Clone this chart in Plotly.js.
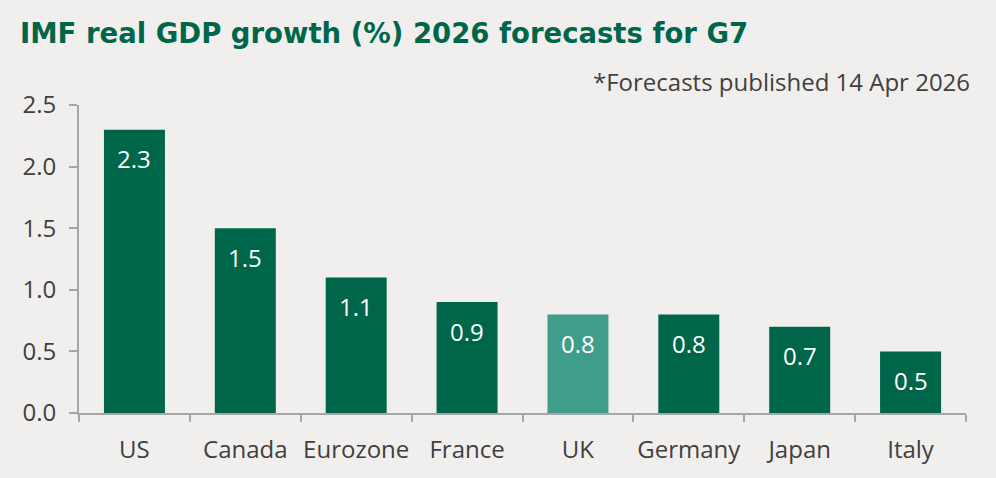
<!DOCTYPE html>
<html>
<head>
<meta charset="utf-8">
<script src="https://cdn.plot.ly/plotly-3.0.1.min.js"></script>
<style>html,body{margin:0;padding:0;background:#F0EFED;}#chart{width:996px;height:478px;}</style>
</head>
<body>
<div id="chart"></div>
<script>
const categories = ["US", "Canada", "Eurozone", "France", "UK", "Germany", "Japan", "Italy"];
const growth = [2.3, 1.5, 1.1, 0.9, 0.8, 0.8, 0.7, 0.5];
const valueLabels = ["2.3", "1.5", "1.1", "0.9", "0.8", "0.8", "0.7", "0.5"];
const highlight = "UK";
const yTicks = [0, 0.5, 1.0, 1.5, 2.0, 2.5];
const yTickLabels = ["0.0", "0.5", "1.0", "1.5", "2.0", "2.5"];

const dark = "#00664A";
const light = "#3F9E89";
const colors = categories.map(c => c === highlight ? light : dark);

const trace = {
  type: "bar",
  x: categories,
  y: growth,
  marker: {color: colors, line: {width: 0}},
  hoverinfo: "skip"
};

const annotations = categories.map((c, i) => ({
  x: c, y: growth[i], xref: "x", yref: "y",
  text: valueLabels[i], showarrow: false,
  yanchor: "middle", yshift: -29,
  font: {family: "Open Sans", size: 24, color: "#FFFFFF"}
}));
annotations.push({
  xref: "paper", yref: "paper", x: 1.007, y: (413 - 81) / 308,
  xanchor: "right", yanchor: "middle",
  text: "*Forecasts published 14 Apr 2026", showarrow: false,
  font: {family: "Open Sans", size: 24, color: "#404040"}
});

const layout = {
  width: 996, height: 478,
  paper_bgcolor: "#F0EFED", plot_bgcolor: "#F0EFED",
  margin: {l: 79, r: 30, t: 105, b: 65},
  bargap: 0.45,
  showlegend: false,
  title: {
    text: "<b>IMF real GDP growth (%) 2026 forecasts for G7</b>",
    x: 20/996, xanchor: "left", xref: "container",
    y: 1 - 33/478, yanchor: "middle", yref: "container",
    font: {family: "DejaVu Sans", size: 27.5, color: dark}
  },
  xaxis: {
    type: "category",
    showline: true, linecolor: "#A6A6A6", linewidth: 2,
    ticks: "outside", ticklen: 7, tickwidth: 2, tickcolor: "#A6A6A6",
    tickson: "boundaries",
    tickangle: 0,
    showgrid: false, zeroline: false,
    ticklabelstandoff: 14,
    tickfont: {family: "Open Sans", size: 24, color: "#404040"}
  },
  yaxis: {
    range: [0, 2.5],
    tickvals: yTicks, ticktext: yTickLabels,
    showline: true, linecolor: "#A6A6A6", linewidth: 2,
    ticks: "outside", ticklen: 8, tickwidth: 2, tickcolor: "#A6A6A6",
    showgrid: false, zeroline: false,
    ticklabelstandoff: 8,
    tickfont: {family: "Open Sans", size: 24, color: "#404040"}
  },
  annotations: annotations
};

Plotly.newPlot("chart", [trace], layout, {displayModeBar: false, staticPlot: true});
</script>
</body>
</html>
